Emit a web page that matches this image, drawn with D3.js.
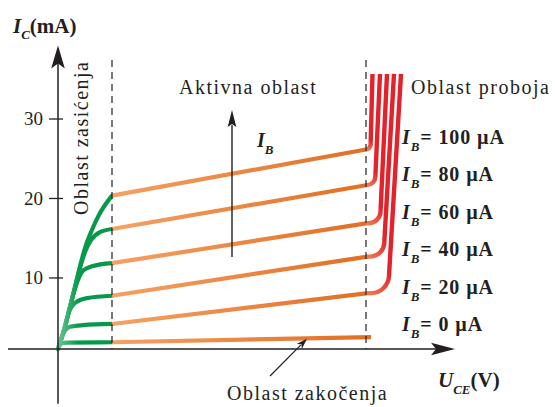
<!DOCTYPE html>
<html>
<head>
<meta charset="utf-8">
<script src="https://cdn.jsdelivr.net/npm/d3@7"></script>
<style>
  body { margin: 0; background: #fff; }
  svg { display: block; }
</style>
</head>
<body>
<script>
// Output characteristics of a bipolar transistor: I_C versus U_CE for several base currents.

// Base currents of the family (µA), top curve first
const baseCurrents = [100, 80, 60, 40, 20, 0];

// Saturation region: [U_CE, I_C] points from the origin to the saturation boundary
const satCurves = [
  [[0, 1], [0.7, 3.8], [1.2, 6.3], [1.7, 8.8], [2.2, 11.4], [2.7, 13.7], [3.4, 16.0], [4.2, 18.1], [5.4, 20.3]],
  [[0, 1], [0.7, 3.8], [1.2, 6.3], [1.7, 8.8], [2.2, 11.2], [2.7, 13.2], [3.3, 14.7], [4.2, 15.7], [5.4, 16.1]],
  [[0, 1], [0.7, 3.8], [1.2, 6.3], [1.7, 8.6], [2.4, 10.7], [3.4, 11.4], [5.4, 11.8]],
  [[0, 1], [0.5, 3.0], [1.0, 5.3], [1.7, 6.8], [2.9, 7.4], [5.4, 7.7]],
  [[0, 1], [0.5, 2.9], [1.2, 3.8], [2.5, 4.0], [5.4, 4.15]],
  [[0, 1], [0.3, 1.7], [1.0, 1.8], [5.4, 1.85]]
];

// Active region: straight segments between the two region boundaries
const activeStartI = [20.3, 16.1, 11.8, 7.7, 4.15, 1.85];
const activeEndI   = [26.1, 21.6, 16.8, 12.6, 8.0, 2.5];
const activeEndU   = [30.8, 30.8, 30.8, 30.8, 30.8, 31.3];

// Breakdown region: knee point [U_CE, I_C] and upper end of each steep branch
const breakKnee = [[31.25, 26.16], [31.7, 21.7], [32.2, 16.92], [32.55, 12.7], [33.0, 8.11]];
const breakTopU = [31.45, 32.2, 32.9, 33.6, 34.3];
const breakTopI = 35.6;

// Region boundaries (V) and axis ticks (mA)
const uSat = 5.4, uBreak = 30.8;
const yTicks = [10, 20, 30];

const W = 555, H = 407;
const INK = "#231f20";
const FONT = "'Liberation Serif', 'Times New Roman', serif";

const svg = d3.select("body").append("svg").attr("width", W).attr("height", H)
  .style("font-family", FONT);

const x = d3.scaleLinear().domain([0, 40]).range([58, 458]);
const y = d3.scaleLinear().domain([1, 30]).range([349, 118.5]);

const uAxis = [-5, 39.7], iAxis = [-5.9, 39.2];
const iDashTop = 37.36;

const defs = svg.append("defs");

const green = defs.append("linearGradient").attr("id", "gSat")
  .attr("gradientUnits", "userSpaceOnUse")
  .attr("x1", x(0)).attr("x2", x(2)).attr("y1", 0).attr("y2", 0);
green.append("stop").attr("offset", 0).attr("stop-color", "#6cc595");
green.append("stop").attr("offset", 1).attr("stop-color", "#07994b");

const orange = defs.append("linearGradient").attr("id", "gAct")
  .attr("gradientUnits", "userSpaceOnUse")
  .attr("x1", x(uSat)).attr("x2", x(uBreak)).attr("y1", 0).attr("y2", 0);
orange.append("stop").attr("offset", 0).attr("stop-color", "#f6a163");
orange.append("stop").attr("offset", 1).attr("stop-color", "#e06f24");

// ---- curves ----
const satLine = d3.line().x(d => x(d[0])).y(d => y(d[1])).curve(d3.curveMonotoneX);

svg.append("g").selectAll("path").data(satCurves).join("path")
  .attr("d", satLine)
  .attr("fill", "none").attr("stroke", "url(#gSat)")
  .attr("stroke-width", 4.2).attr("stroke-linecap", "round").attr("stroke-linejoin", "round");

svg.append("g").selectAll("line").data(baseCurrents).join("line")
  .attr("x1", x(uSat)).attr("y1", (d, i) => y(activeStartI[i]))
  .attr("x2", (d, i) => x(activeEndU[i])).attr("y2", (d, i) => y(activeEndI[i]))
  .attr("stroke", "url(#gAct)").attr("stroke-width", 4.2);

// Breakdown branches: a rounded knee, then a nearly vertical rise
const bendRadius = [5, 9, 12, 14, 18];
const gBreak = svg.append("g");
breakKnee.forEach((k, i) => {
  const x0 = x(uBreak), y0 = y(activeEndI[i]);
  const kx = x(k[0]), ky = y(k[1]);
  const tx = x(breakTopU[i]), ty = y(breakTopI);
  const grad = defs.append("linearGradient").attr("id", "gBr" + i)
    .attr("gradientUnits", "userSpaceOnUse")
    .attr("x1", x0).attr("y1", y0).attr("x2", kx).attr("y2", ky - bendRadius[i] - 4);
  grad.append("stop").attr("offset", 0).attr("stop-color", "#ee7d55");
  grad.append("stop").attr("offset", 1).attr("stop-color", "#e3222b");
  const p = d3.path();
  p.moveTo(x0, y0);
  p.arcTo(kx, ky, tx, ty, bendRadius[i]);
  p.lineTo(tx, ty);
  gBreak.append("path").attr("d", p.toString())
    .attr("fill", "none").attr("stroke", `url(#gBr${i})`).attr("stroke-width", 4.4);
});

// ---- region boundaries ----
svg.append("g").selectAll("line").data([uSat, uBreak]).join("line")
  .attr("x1", d => x(d)).attr("x2", d => x(d))
  .attr("y1", y(iDashTop)).attr("y2", y(1))
  .attr("stroke", INK).attr("stroke-width", 1.2).attr("stroke-dasharray", "7,5");

// ---- axes ----
function arrowHead(tipX, tipY, angle, len, half, notch) {
  const p = d3.path();
  p.moveTo(0, 0);
  p.lineTo(-len, -half);
  p.lineTo(-len + notch, 0);
  p.lineTo(-len, half);
  p.closePath();
  svg.append("path").attr("d", p.toString())
    .attr("transform", `translate(${tipX},${tipY}) rotate(${angle})`)
    .attr("fill", INK);
}

svg.append("line").attr("x1", x(uAxis[0])).attr("x2", x(uAxis[1]) - 6)
  .attr("y1", y(1)).attr("y2", y(1)).attr("stroke", INK).attr("stroke-width", 1.5);
arrowHead(x(uAxis[1]), y(1), 0, 24, 6.3, 5);

svg.append("line").attr("x1", x(0)).attr("x2", x(0))
  .attr("y1", y(iAxis[0])).attr("y2", y(iAxis[1]) + 6).attr("stroke", INK).attr("stroke-width", 1.5);
arrowHead(x(0), y(iAxis[1]), -90, 23, 6.8, 5);

const yAxisG = svg.append("g").attr("transform", `translate(${x(0)},0)`)
  .call(d3.axisLeft(y).tickValues(yTicks).tickSize(9).tickPadding(6).tickFormat(d3.format("d")));
yAxisG.select(".domain").remove();
yAxisG.attr("font-family", FONT).attr("font-size", 19);
yAxisG.selectAll(".tick line").attr("x1", 5).attr("stroke", INK).attr("stroke-width", 1.3);
yAxisG.selectAll(".tick text").attr("fill", INK);

// ---- annotation arrows ----
function arrow(u1, i1, u2, i2, len, half, width) {
  const x1 = x(u1), y1 = y(i1), x2 = x(u2), y2 = y(i2);
  const ang = Math.atan2(y2 - y1, x2 - x1) * 180 / Math.PI;
  const dl = Math.hypot(x2 - x1, y2 - y1);
  svg.append("line").attr("x1", x1).attr("y1", y1)
    .attr("x2", x1 + (x2 - x1) * (dl - len + 2) / dl).attr("y2", y1 + (y2 - y1) * (dl - len + 2) / dl)
    .attr("stroke", INK).attr("stroke-width", width);
  arrowHead(x2, y2, ang, len, half, 3);
}
arrow(17.4, 12.58, 17.4, 31.07, 17, 4.3, 1.4);   // increasing base current
arrow(21.2, -2.4, 24.9, 2.3, 11, 3.6, 1.2);      // pointer to the cut-off region

// ---- text ----
function subLabel(xp, yp, main, sub, rest, opts) {
  const t = svg.append("text").attr("x", xp).attr("y", yp)
    .attr("fill", INK).attr("font-size", opts.size).attr("font-weight", "bold")
    .attr("letter-spacing", opts.ls || 0);
  t.append("tspan").attr("font-style", "italic").text(main);
  t.append("tspan").attr("font-style", "italic").attr("font-size", opts.subSize)
    .attr("dy", opts.subDy).text(sub);
  if (rest) t.append("tspan").attr("dy", -opts.subDy).text(rest);
  return t;
}

subLabel(13, 33, "I", "C", "(mA)", { size: 21, subSize: 13, subDy: 6 });
subLabel(438, 387, "U", "CE", "(V)", { size: 21, subSize: 13, subDy: 7 });
subLabel(257, 147, "I", "B", null, { size: 20, subSize: 13, subDy: 7 });

baseCurrents.forEach((ib, i) => {
  subLabel(402, 144 + i * 37.4, "I", "B", `= ${ib} µA`, { size: 20, subSize: 13, subDy: 7, ls: 0.9 });
});

function plain(xp, yp, str, rot) {
  const t = svg.append("text").attr("fill", INK).attr("font-size", 20)
    .attr("letter-spacing", 1.5).text(str);
  if (rot) t.attr("transform", `translate(${xp},${yp}) rotate(-90)`);
  else t.attr("x", xp).attr("y", yp);
  return t;
}
plain(179, 94, "Aktivna oblast");
plain(411, 94, "Oblast proboja");
plain(227, 400, "Oblast zakočenja");
plain(88, 215, "Oblast zasićenja", true);
</script>
</body>
</html>
